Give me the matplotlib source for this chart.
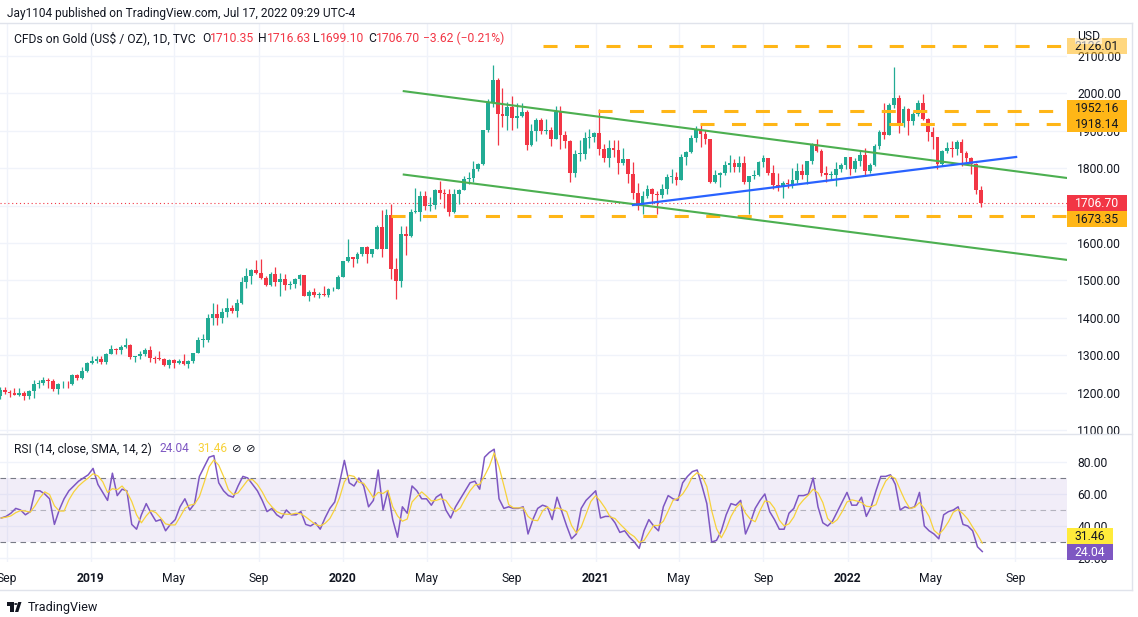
import matplotlib
matplotlib.use("Agg")
import matplotlib.pyplot as plt
import matplotlib.dates as mdates
from matplotlib.patches import Rectangle, Polygon, Circle
from matplotlib.lines import Line2D
import numpy as np
import pandas as pd

plt.rcParams['font.family'] = ['Roboto', 'DejaVu Sans']

W, H, DPI = 1138, 617, 100

# ---------------- data (weekly OHLC, week ending Friday) ----------------
week_end = pd.date_range("2018-08-24", "2022-07-15", freq="W-FRI")

opens = [1190, 1206, 1201, 1198, 1194, 1199, 1192, 1203, 1222, 1226,
         1235, 1232, 1209, 1222, 1223, 1222, 1248, 1238, 1257, 1280,
         1285, 1289, 1282, 1304, 1317, 1314, 1322, 1328, 1294, 1298,
         1302, 1313, 1292, 1291, 1290, 1275, 1286, 1279, 1285, 1277,
         1284, 1305, 1341, 1341, 1400, 1409, 1400, 1415, 1426, 1419,
         1440, 1497, 1513, 1527, 1520, 1507, 1488, 1516, 1497, 1505,
         1489, 1490, 1505, 1514, 1459, 1468, 1462, 1464, 1460, 1476,
         1478, 1510, 1552, 1562, 1557, 1571, 1589, 1570, 1584, 1643,
         1585, 1674, 1530, 1498, 1625, 1620, 1683, 1683, 1727, 1700,
         1702, 1743, 1734, 1730, 1684, 1730, 1743, 1771, 1774, 1798,
         1810, 1902, 1975, 2035, 1944, 1940, 1964, 1934, 1940, 1950,
         1861, 1900, 1930, 1899, 1902, 1879, 1951, 1889, 1872, 1788,
         1838, 1839, 1881, 1883, 1895, 1850, 1828, 1855, 1848, 1814,
         1824, 1784, 1734, 1700, 1727, 1745, 1732, 1729, 1744, 1777,
         1777, 1769, 1831, 1843, 1881, 1903, 1891, 1877, 1764, 1781,
         1787, 1808, 1815, 1802, 1814, 1763, 1780, 1781, 1817, 1828,
         1788, 1754, 1750, 1761, 1757, 1768, 1793, 1783, 1818, 1865,
         1846, 1788, 1783, 1783, 1798, 1808, 1829, 1797, 1818, 1835,
         1792, 1808, 1859, 1898, 1889, 1970, 1989, 1921, 1958, 1925,
         1946, 1975, 1932, 1897, 1883, 1811, 1846, 1853, 1851, 1871,
         1840, 1827, 1812, 1742]

highs = [1214, 1214, 1207, 1213, 1211, 1204, 1207, 1233, 1233, 1243,
         1238, 1237, 1226, 1231, 1230, 1251, 1251, 1268, 1283, 1298,
         1298, 1298, 1306, 1326, 1320, 1326, 1346, 1330, 1299, 1311,
         1320, 1324, 1298, 1310, 1292, 1289, 1290, 1289, 1304, 1287,
         1306, 1348, 1358, 1411, 1439, 1437, 1426, 1452, 1433, 1449,
         1510, 1534, 1530, 1555, 1557, 1511, 1523, 1535, 1519, 1517,
         1498, 1506, 1516, 1514, 1474, 1479, 1468, 1485, 1481, 1482,
         1514, 1553, 1611, 1563, 1575, 1589, 1592, 1585, 1649, 1689,
         1692, 1703, 1561, 1645, 1645, 1690, 1748, 1738, 1739, 1722,
         1745, 1765, 1745, 1745, 1745, 1745, 1779, 1789, 1818, 1815,
         1902, 1984, 2075, 2040, 2015, 1976, 1992, 1973, 1973, 1955,
         1917, 1933, 1933, 1932, 1911, 1965, 1966, 1900, 1875, 1848,
         1875, 1897, 1906, 1896, 1959, 1865, 1876, 1875, 1875, 1855,
         1824, 1816, 1760, 1740, 1755, 1746, 1740, 1758, 1785, 1798,
         1790, 1837, 1845, 1890, 1913, 1917, 1903, 1877, 1795, 1790,
         1818, 1834, 1825, 1832, 1832, 1780, 1795, 1820, 1834, 1828,
         1809, 1787, 1765, 1771, 1800, 1814, 1810, 1818, 1868, 1877,
         1850, 1807, 1793, 1816, 1814, 1831, 1831, 1828, 1848, 1853,
         1815, 1865, 1902, 1974, 1973, 2070, 1995, 1966, 1960, 1950,
         1982, 1998, 1935, 1910, 1884, 1849, 1870, 1874, 1875, 1879,
         1847, 1831, 1814, 1752]

lows = [1183, 1196, 1189, 1193, 1192, 1181, 1183, 1185, 1211, 1221,
        1211, 1205, 1196, 1213, 1211, 1220, 1233, 1236, 1256, 1276,
        1278, 1276, 1277, 1302, 1302, 1302, 1320, 1291, 1281, 1290,
        1298, 1281, 1280, 1286, 1270, 1266, 1267, 1277, 1275, 1266,
        1279, 1305, 1322, 1336, 1382, 1381, 1387, 1402, 1412, 1401,
        1437, 1480, 1491, 1517, 1505, 1484, 1485, 1486, 1459, 1474,
        1476, 1480, 1487, 1457, 1445, 1456, 1452, 1458, 1456, 1472,
        1476, 1508, 1548, 1536, 1546, 1564, 1547, 1562, 1583, 1563,
        1586, 1504, 1451, 1483, 1567, 1615, 1679, 1660, 1688, 1686,
        1692, 1717, 1693, 1671, 1679, 1704, 1741, 1757, 1763, 1792,
        1808, 1898, 1963, 1863, 1911, 1903, 1902, 1907, 1936, 1849,
        1860, 1873, 1891, 1892, 1860, 1877, 1850, 1853, 1764, 1776,
        1820, 1825, 1855, 1869, 1835, 1817, 1803, 1831, 1785, 1808,
        1760, 1717, 1687, 1677, 1719, 1705, 1677, 1721, 1730, 1761,
        1756, 1768, 1808, 1840, 1869, 1856, 1866, 1761, 1761, 1750,
        1783, 1791, 1789, 1790, 1759, 1677, 1772, 1780, 1802, 1781,
        1745, 1738, 1721, 1746, 1746, 1760, 1771, 1758, 1812, 1844,
        1779, 1762, 1772, 1753, 1789, 1797, 1782, 1790, 1805, 1780,
        1788, 1806, 1850, 1878, 1889, 1960, 1895, 1910, 1890, 1915,
        1940, 1929, 1872, 1850, 1797, 1807, 1840, 1829, 1836, 1805,
        1816, 1784, 1732, 1697]

closes = [1206, 1201, 1198, 1194, 1199, 1192, 1203, 1222, 1226, 1235,
          1232, 1209, 1222, 1223, 1222, 1248, 1238, 1257, 1280, 1285,
          1289, 1282, 1304, 1317, 1314, 1322, 1328, 1294, 1298, 1302,
          1313, 1292, 1291, 1290, 1275, 1286, 1279, 1285, 1277, 1284,
          1305, 1341, 1341, 1400, 1409, 1400, 1415, 1426, 1419, 1440,
          1497, 1513, 1527, 1520, 1507, 1488, 1516, 1497, 1505, 1489,
          1490, 1505, 1514, 1459, 1468, 1462, 1464, 1460, 1476, 1478,
          1510, 1552, 1562, 1557, 1571, 1589, 1570, 1584, 1643, 1585,
          1674, 1530, 1498, 1625, 1620, 1683, 1683, 1727, 1700, 1702,
          1743, 1734, 1730, 1684, 1730, 1743, 1771, 1774, 1798, 1810,
          1902, 1975, 2035, 1944, 1940, 1964, 1934, 1940, 1950, 1861,
          1900, 1930, 1899, 1902, 1879, 1951, 1889, 1872, 1788, 1838,
          1839, 1881, 1883, 1895, 1850, 1828, 1855, 1848, 1814, 1824,
          1784, 1734, 1700, 1727, 1745, 1732, 1729, 1744, 1777, 1777,
          1769, 1831, 1843, 1881, 1903, 1891, 1877, 1764, 1781, 1787,
          1808, 1815, 1802, 1814, 1763, 1780, 1781, 1817, 1828, 1788,
          1754, 1750, 1761, 1757, 1768, 1793, 1783, 1818, 1865, 1846,
          1788, 1783, 1783, 1798, 1808, 1829, 1797, 1818, 1835, 1792,
          1808, 1859, 1898, 1889, 1970, 1989, 1921, 1958, 1925, 1946,
          1975, 1932, 1897, 1883, 1811, 1846, 1853, 1851, 1871, 1840,
          1827, 1812, 1742, 1707]

rsi = [45, 46, 48, 51, 50, 47, 49, 62, 62, 60,
       57, 41, 50, 57, 62, 65, 68, 70, 72, 76,
       66, 61, 56, 73, 59, 63, 62, 41, 38, 47,
       54, 48, 43, 44, 37, 41, 44, 52, 57, 50,
       54, 71, 77, 83, 84, 67, 62, 59, 58, 65,
       71, 70, 66, 62, 56, 49, 51, 47, 45, 50,
       47, 47, 49, 41, 40, 42, 38, 45, 51, 55,
       67, 81, 67, 65, 70, 65, 52, 56, 75, 50,
       62, 44, 33, 52, 48, 65, 62, 57, 57, 53,
       58, 60, 50, 45, 52, 57, 62, 67, 68, 63,
       83, 86, 88, 57, 51, 52, 51, 51, 52, 35,
       44, 51, 53, 52, 44, 58, 49, 40, 32, 35,
       51, 56, 59, 62, 45, 46, 46, 42, 36, 37,
       33, 30, 26, 37, 44, 40, 37, 52, 59, 57,
       56, 67, 71, 74, 75, 65, 54, 30, 31, 37,
       47, 54, 53, 56, 35, 42, 51, 56, 60, 49,
       44, 38, 38, 48, 51, 59, 59, 60, 70, 52,
       42, 40, 43, 49, 55, 61, 53, 53, 58, 46,
       52, 62, 71, 71, 72, 66, 50, 52, 51, 52,
       61, 40, 37, 35, 32, 47, 49, 50, 52, 41,
       40, 37, 27, 24.04]

# legend values
last_ohlc = {"O": "1710.35", "H": "1716.63", "L": "1699.10", "C": "1706.70"}
change_text = "\u22123.62 (\u22120.21%)"
last_close = 1706.70
rsi_last = 24.04
sma_last = 31.46

# drawn annotations (levels and trend lines)
level_prices = [2126.01, 1952.16, 1918.14, 1673.35]
level_starts = ["2020-10-17", "2021-01-05", "2021-06-01", "2020-03-10"]
channel_dates = ["2020-03-29", "2022-11-14"]
channel_upper = [2006, 1774]
channel_lower = [1783, 1555]
blue_dates = ["2021-02-24", "2022-09-02"]
blue_prices = [1701.6, 1830]

price_ticks = [1100, 1200, 1300, 1400, 1500, 1600, 1700, 1800, 1900, 2000, 2100]
rsi_ticks = [20, 40, 60, 80]
tick_dates = ["2018-09-01", "2019-01-01", "2019-05-01", "2019-09-01", "2020-01-01",
              "2020-05-01", "2020-09-01", "2021-01-01", "2021-05-01", "2021-09-01",
              "2022-01-01", "2022-05-01", "2022-09-01"]
tick_labels = ["Sep", "2019", "May", "Sep", "2020", "May", "Sep", "2021", "May",
               "Sep", "2022", "May", "Sep"]

# ---------------- style ----------------
TXT = "#131722"
UP, DN = "#22AB94", "#F23645"
ORANGE = "#FFB617"
GREEN = "#4CAF50"
BLUE = "#2962FF"
PURPLE = "#7E57C2"
YELLOW = "#F7D23C"
GRID = "#F0F3FA"
BORDER = "#E0E3EB"
LBL = 8.7

fig = plt.figure(figsize=(W / DPI, H / DPI), dpi=DPI)
fig.patch.set_facecolor("white")


def fx(px):
    return px / W


def fy(py):
    return 1 - py / H


PLOT_R = 1067
ax = fig.add_axes([0, fy(433), PLOT_R / W, (433 - 23) / H])
rx = fig.add_axes([0, fy(562), PLOT_R / W, (562 - 435) / H])

X0 = mdates.date2num(pd.Timestamp("2019-01-01"))
PPD = 0.6904
xlim = (X0 - 91 / PPD, X0 + (PLOT_R - 91) / PPD)
tick_x = mdates.date2num(pd.to_datetime(tick_dates))
for a in (ax, rx):
    a.set_xlim(*xlim)
    for s in a.spines.values():
        s.set_visible(False)
    a.set_axisbelow(True)
    a.set_facecolor("none")
    a.set_xticks(tick_x)
    a.grid(True, color=GRID, lw=1)

ax.set_ylim(1100 - 3 / 0.374, 2100 + 33 / 0.374)
rx.set_ylim(20 - 4 / 1.6, 80 + 27 / 1.6)

ax.tick_params(axis="x", length=0, labelbottom=False)
rx.set_xticklabels(tick_labels)
rx.tick_params(axis="x", length=0, pad=7, labelsize=LBL, labelcolor=TXT)
for lab, t in zip(rx.get_xticklabels(), tick_labels):
    if t.isdigit():
        lab.set_fontweight("bold")

ax.yaxis.tick_right()
ax.set_yticks(price_ticks)
# the 1700 label sits fully under the current-price box, so it is left blank
ax.set_yticklabels(["" if v == 1700 else f"{v:.2f}" for v in price_ticks])
ax.tick_params(axis="y", length=0, pad=7.5, labelsize=LBL, labelcolor=TXT)
rx.yaxis.tick_right()
rx.set_yticks(rsi_ticks)
rx.set_yticklabels([f"{v:.2f}" for v in rsi_ticks])
rx.tick_params(axis="y", length=0, pad=7.5, labelsize=LBL, labelcolor=TXT)

# ---------------- candles ----------------
xs = mdates.date2num(week_end) - 2.0
o, h, l, c = map(np.asarray, (opens, highs, lows, closes))
cols = np.where(c >= o, UP, DN)
ax.vlines(xs, l, h, colors=cols, lw=0.9, zorder=3)
ax.bar(xs, np.maximum(np.abs(c - o), 1.5), bottom=np.minimum(o, c), width=5.4,
       color=cols, lw=0, zorder=3)

# ---------------- drawings ----------------
for p, s in zip(level_prices, level_starts):
    ax.plot([mdates.date2num(pd.Timestamp(s)), xlim[1]], [p, p], color=ORANGE,
            lw=2.2, dashes=(4.6, 5.7), dash_capstyle="butt", zorder=4)
cd = mdates.date2num(pd.to_datetime(channel_dates))
ax.plot(cd, channel_upper, color=GREEN, lw=1.5, zorder=5)
ax.plot(cd, channel_lower, color=GREEN, lw=1.5, zorder=5)
bd = mdates.date2num(pd.to_datetime(blue_dates))
ax.plot(bd, blue_prices, color=BLUE, lw=1.6, zorder=5)
ax.axhline(last_close, color=DN, lw=0.8, ls=(0, (1, 2.5)), zorder=2)

# ---------------- RSI ----------------
rd = mdates.date2num(week_end)
rsi_s = pd.Series(rsi, dtype=float)
sma = rsi_s.rolling(3, min_periods=1).mean()
rx.axhspan(30, 70, color=PURPLE, alpha=0.1, lw=0, zorder=1)
for lvl, al in ((70, 1.0), (50, 0.5), (30, 1.0)):
    rx.axhline(lvl, color="#787B86", alpha=al, lw=0.8, dashes=(5, 4), zorder=2)
rx.plot(rd, rsi_s, color=PURPLE, lw=1.1, zorder=4)
rx.plot(rd, sma, color=YELLOW, lw=0.9, zorder=5)


# ---------------- right-side value boxes ----------------
def to_py(a, v):
    return H - a.transData.transform((xlim[0], v))[1]


def place(items, gap=16):
    done = []
    for it in items:
        y = it["py"]
        for _ in range(10):
            moved = False
            for p in done:
                if abs(y - p) < gap - 0.01:
                    y = p - gap if y < p else p + gap
                    moved = True
            if not moved:
                break
        done.append(y)
        it["y"] = y
    return items


def box(x0, w, yc, text, face, tc, hgt=16, alpha=1.0):
    fig.add_artist(Rectangle((fx(x0), fy(yc + hgt / 2)), w / W, hgt / H,
                             transform=fig.transFigure, facecolor=face,
                             edgecolor="none", alpha=alpha, zorder=20))
    fig.text(fx(x0 + w / 2), fy(yc + 0.5), text, ha="center", va="center",
             color=tc, fontsize=LBL, zorder=21)


main_items = [{"py": to_py(ax, last_close), "t": f"{last_close:.2f}", "f": DN, "c": "white"}]
for p in [level_prices[2], level_prices[3], level_prices[1], level_prices[0]]:
    main_items.append({"py": to_py(ax, p), "t": f"{p:.2f}", "f": ORANGE, "c": TXT})
place(main_items)
for it in main_items:
    alpha = 0.55 if it["py"] < 50 else 1.0
    box(PLOT_R, 60, it["y"], it["t"], it["f"], it["c"], alpha=alpha)

rsi_items = [{"py": to_py(rx, rsi_last), "t": f"{rsi_last:.2f}", "f": PURPLE, "c": "white"},
             {"py": to_py(rx, sma_last), "t": f"{sma_last:.2f}", "f": "#FFEB3B", "c": TXT}]
place(rsi_items)
for it in rsi_items:
    box(PLOT_R, 46, it["y"], it["t"], it["f"], it["c"])

fig.text(fx(1077), fy(36), "USD", ha="left", va="center", fontsize=LBL,
         color=TXT, zorder=22,
         bbox=dict(boxstyle="square,pad=0.15", fc="white", ec="none", alpha=0.6))

# ---------------- texts ----------------
renderer = fig.canvas.get_renderer()


def put(x, y, s, size, color=TXT, weight="normal"):
    return fig.text(fx(x), fy(y), s, fontsize=size, color=color, ha="left",
                    va="center", fontweight=weight, zorder=25)


def wpx(t):
    return t.get_window_extent(renderer=renderer).width


def fit(t, target):
    t.set_fontsize(t.get_fontsize() * target / wpx(t))
    return t.get_fontsize()


hdr = put(7, 13, "Jay1104 published on TradingView.com, Jul 17, 2022 09:29 UTC-4", 9)
fit(hdr, 350)

leg = put(14, 38, "CFDs on Gold (US$ / OZ), 1D, TVC", 9)
ls = fit(leg, 181)
for key, x in (("O", 202), ("H", 258), ("L", 313), ("C", 368)):
    k = put(x, 38, key, ls)
    put(x + wpx(k), 38, last_ohlc[key], ls, color=DN)
put(423, 38, change_text, ls, color=DN)

rl = put(14, 449, "RSI (14, close, SMA, 14, 2)", 9)
rs = fit(rl, 138)
put(160, 449, f"{rsi_last:.2f}", rs, color=PURPLE)
put(197, 449, f"{sma_last:.2f}", rs, color=YELLOW)
put(232, 449, "\u2298", rs * 0.95)
put(246, 449, "\u2298", rs * 0.95)

tv = put(28, 607, "TradingView", 10)
fit(tv, 70)
logo = [Rectangle((fx(7), fy(605.5)), fx(6.5), 3.5 / H),
        Rectangle((fx(10), fy(612)), fx(3.5), 10 / H),
        Polygon([(fx(15), fy(612)), (fx(18.3), fy(612)), (fx(21.5), fy(602)), (fx(18.2), fy(602))])]
for p in logo:
    p.set_transform(fig.transFigure)
    p.set_facecolor(TXT)
    p.set_edgecolor("none")
    fig.add_artist(p)
fig.add_artist(Circle((fx(15.8), fy(604)), 1.7 / W, transform=fig.transFigure,
                      facecolor=TXT, edgecolor="none"))

# ---------------- frame ----------------
for xa, ya in (([0, 1132], [23, 23]), ([1132, 1132], [23, 590]),
               ([0, 1132], [590, 590]), ([0, 1132], [434, 434])):
    fig.add_artist(Line2D([fx(v) for v in xa], [fy(v) for v in ya],
                          transform=fig.transFigure, color=BORDER, lw=1, zorder=30))

fig.savefig("out.png", dpi=DPI)
